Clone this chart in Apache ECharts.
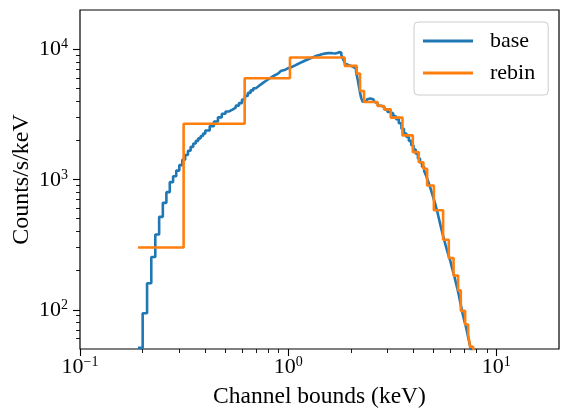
<!DOCTYPE html>
<html><head><meta charset="utf-8">
<script src="https://cdn.jsdelivr.net/npm/echarts@6/dist/echarts.min.js"></script>
<style>html,body{margin:0;padding:0;background:#fff}#c{width:569px;height:419px}</style>
</head><body><div id="c"></div>
<script>
// ---- data ----
const baseEdges = [0.19,0.20,0.21,0.22,0.23,0.24,0.25,0.26,0.27,0.28,0.29,0.30,0.31,0.32,0.33,0.34,0.35,0.36,0.37,0.38,0.39,0.40,
  0.42,0.44,0.46,0.48,0.50,0.52,0.54,0.56,0.58,0.60,0.62,0.64,0.66,0.68,0.70,0.72,0.74,0.76,0.78,0.80,0.82,0.84,0.86,0.88,0.90,0.92,0.94,0.96,0.98,1.00,
  1.04,1.08,1.12,1.16,1.20,1.24,1.28,1.32,1.36,1.40,1.44,1.48,1.52,1.56,1.60,1.64,1.68,1.72,1.76,1.80,1.84,1.88,1.92,1.96,2.00,2.04,2.08,2.12,2.16,2.20,2.24,2.28,2.32,2.36,2.40,2.44,2.48,2.52,2.56,2.60,2.64,2.68,2.72,
  2.8,2.9,3.0,3.1,3.2,3.3,3.4,3.5,3.6,3.7,3.8,3.9,4.0,4.1,4.2,4.3,4.4,4.5,4.6,4.7,4.8,4.9,5.0,5.1,5.2,5.3,5.4,5.5,5.6,5.7,5.8,5.9,6.0,6.1,6.2,6.3,6.4,6.5,6.6,6.7,6.8,6.9,7.0,7.1,7.2,7.3,7.4,7.5,7.6,7.7,7.8,7.9];
const baseValues = [51,94,160,254,378,517,662,800,955,1060,1170,1290,1420,1540,1660,1780,1890,1980,2070,2160,2250,
  2380,2570,2790,3000,3200,3330,3440,3560,3690,3860,4100,4380,4620,4830,5020,5200,5370,5540,5700,5860,6010,6150,6290,6420,6550,6680,6800,6920,7040,7150,
  7300,7520,7740,7950,8150,8340,8520,8700,8860,9000,9120,9220,9290,9330,9330,9300,9280,9350,9500,9450,9050,8300,7750,7550,7450,7350,7250,7100,6700,5800,4900,4250,3950,3950,4050,4130,4180,4180,4130,4050,3950,3850,3760,3680,
  3600,3450,3300,3200,3050,2900,2700,2450,2250,2120,1980,1830,1700,1580,1450,1350,1250,1160,1070,970,880,790,710,640,570,500,440,390,350,315,285,260,240,215,195,178,160,145,130,115,103,92,84,77,70,63,57,52,47,42,38];
const rebinEdges = [0.19,0.3146,0.618,1.02,1.869,2.135,2.214,2.314,2.685,2.888,3.11,3.54,3.97,4.24,4.46,4.65,5.01,5.55,5.91,6.23,6.55,6.75,7.08,7.32,7.48,7.74,8.06];
const rebinValues = [301,2680,5985,8630,7450,6500,4775,3935,3665,3455,2985,2180,1622,1358,1208,899,581,345,250,183,141,98,77,65,52,40];
const seriesNames = ['base','rebin'];
const xRange = [0.1, 20];
const yRange = [50, 20000];
const xMajorTicks = [0.1, 1, 10];
const yMajorTicks = [100, 1000, 10000];
const xLabel = 'Channel bounds (keV)';
const yLabel = 'Counts/s/keV';

// ---- helpers ----
function stepPoints(edges, vals){
  const pts=[];
  for(let i=0;i<vals.length;i++){ pts.push([edges[i],vals[i]]); pts.push([edges[i+1],vals[i]]); }
  return pts;
}
function minorTicks(range){
  const out=[];
  const d0=Math.floor(Math.log10(range[0])), d1=Math.ceil(Math.log10(range[1]));
  for(let d=d0; d<=d1; d++) for(let k=2;k<=9;k++){ const v=k*Math.pow(10,d); if(v>range[0]*1.0001 && v<range[1]*0.9999) out.push(Math.log10(v)); }
  return out;
}
const FONT='Liberation Serif';
const rich={
  b:{fontSize:22,fontFamily:FONT,color:'#000',verticalAlign:'bottom'},
  s:{fontSize:14,fontFamily:FONT,color:'#000',verticalAlign:'bottom',padding:[0,0,9,0]}
};
function fmt(v){ const e=Math.round(v); return '{b|10}{s|'+(e<0?'\u2212'+(-e):e)+'}'; }
const lg=v=>Math.log10(v);
const hidden={axisLine:{show:false,onZero:false},axisTick:{show:false},axisLabel:{show:false},splitLine:{show:false}};

const chart=echarts.init(document.getElementById('c'),null,{renderer:'canvas'});
chart.setOption({
  animation:false,
  backgroundColor:'#fff',
  grid:{left:80,right:10,top:10,bottom:70,containLabel:false,outerBoundsMode:'none',show:true,borderColor:'#000',borderWidth:1.2,backgroundColor:'transparent'},
  xAxis:[
    Object.assign({type:'log',logBase:10,min:xRange[0],max:xRange[1]},hidden),
    {type:'value',position:'bottom',min:lg(xRange[0]),max:lg(xRange[1]),
      axisLine:{show:false,onZero:false},splitLine:{show:false},
      axisTick:{show:true,customValues:xMajorTicks.map(lg),length:7,lineStyle:{color:'#000',width:1.1}},
      axisLabel:{show:true,customValues:xMajorTicks.map(lg),formatter:fmt,rich:rich,margin:6,fontSize:22,fontFamily:FONT,color:'#000'},
      name:xLabel,nameLocation:'middle',nameGap:36,nameMoveOverlap:false,nameTextStyle:{fontFamily:FONT,fontSize:23.5,color:'#000'}},
    {type:'value',position:'bottom',min:lg(xRange[0]),max:lg(xRange[1]),
      axisLine:{show:false,onZero:false},splitLine:{show:false},axisLabel:{show:false},
      axisTick:{show:true,customValues:minorTicks(xRange),length:4,lineStyle:{color:'#000',width:0.9}}}
  ],
  yAxis:[
    Object.assign({type:'log',logBase:10,min:yRange[0],max:yRange[1]},hidden),
    {type:'value',position:'left',min:lg(yRange[0]),max:lg(yRange[1]),
      axisLine:{show:false,onZero:false},splitLine:{show:false},
      axisTick:{show:true,customValues:yMajorTicks.map(lg),length:7,lineStyle:{color:'#000',width:1.1}},
      axisLabel:{show:true,customValues:yMajorTicks.map(lg),formatter:fmt,rich:rich,margin:12,fontSize:22,fontFamily:FONT,color:'#000'},
      name:yLabel,nameLocation:'middle',nameGap:46,nameMoveOverlap:false,nameRotate:90,nameTextStyle:{fontFamily:FONT,fontSize:24,color:'#000'}},
    {type:'value',position:'left',min:lg(yRange[0]),max:lg(yRange[1]),
      axisLine:{show:false,onZero:false},splitLine:{show:false},axisLabel:{show:false},
      axisTick:{show:true,customValues:minorTicks(yRange),length:4,lineStyle:{color:'#000',width:0.9}}}
  ],
  legend:{
    orient:'vertical',left:414,top:22,
    data:seriesNames,
    icon:'rect',itemWidth:50,itemHeight:3,itemGap:10,
    padding:[8,13,11,9],
    backgroundColor:'#fff',borderColor:'#cccccc',borderWidth:1,borderRadius:4,
    textStyle:{fontFamily:FONT,fontSize:22,color:'#000',padding:[0,0,0,12]}
  },
  series:[
    {name:seriesNames[0],type:'line',xAxisIndex:0,yAxisIndex:0,data:stepPoints(baseEdges,baseValues),
      symbol:'none',showSymbol:false,color:'#1f77b4',lineStyle:{color:'#1f77b4',width:2.6},clip:true,z:2},
    {name:seriesNames[1],type:'line',xAxisIndex:0,yAxisIndex:0,data:stepPoints(rebinEdges,rebinValues),
      symbol:'none',showSymbol:false,color:'#ff7f0e',lineStyle:{color:'#ff7f0e',width:2.6},clip:true,z:3}
  ]
});
</script></body></html>
